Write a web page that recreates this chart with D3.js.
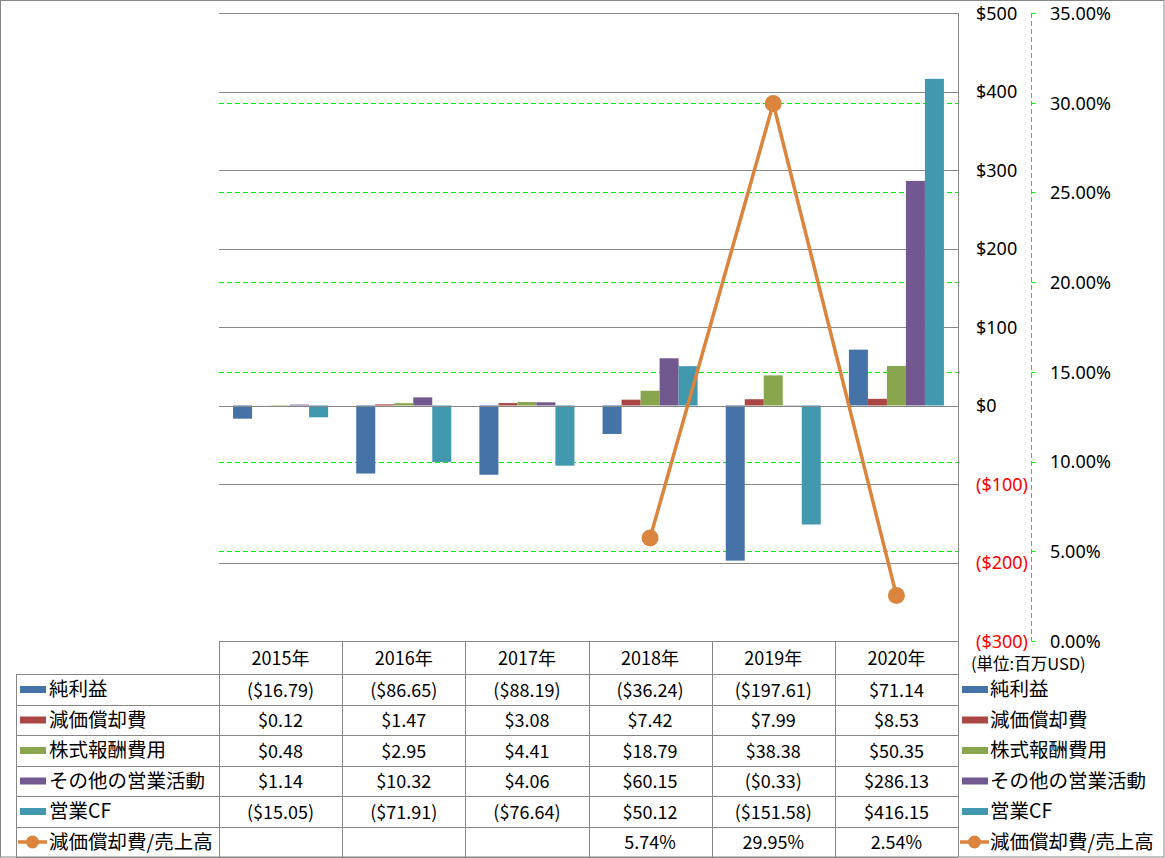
<!DOCTYPE html>
<html>
<head>
<meta charset="utf-8">
<script src="https://cdn.jsdelivr.net/npm/d3@7/dist/d3.min.js"></script>
<style>
  html, body { margin: 0; padding: 0; background: #fff; }
  svg { display: block; }
  text { font-family: "Noto Sans CJK JP", "Noto Sans", sans-serif; }
  text.axisnum { font-family: "Noto Sans", "Noto Sans CJK JP", sans-serif; }
</style>
</head>
<body>
<svg id="chart" width="1165" height="858"></svg>
<script>
const categories = ["2015年", "2016年", "2017年", "2018年", "2019年", "2020年"];
const seriesNames = ["純利益", "減価償却費", "株式報酬費用", "その他の営業活動", "営業CF"];
const netIncome = [-16.79, -86.65, -88.19, -36.24, -197.61, 71.14];
const depreciation = [0.12, 1.47, 3.08, 7.42, 7.99, 8.53];
const stockComp = [0.48, 2.95, 4.41, 18.79, 38.38, 50.35];
const otherOps = [1.14, 10.32, 4.06, 60.15, -0.33, 286.13];
const operatingCF = [-15.05, -71.91, -76.64, 50.12, -151.58, 416.15];
const lineName = "減価償却費/売上高";
const depRatio = [null, null, null, 5.74, 29.95, 2.54];
const leftTicks = [500, 400, 300, 200, 100, 0, -100, -200, -300];
const rightTicks = [0, 5, 10, 15, 20, 25, 30, 35];
const unitLabel = "(単位:百万USD)";

const barSeries = [netIncome, depreciation, stockComp, otherOps, operatingCF];
const colors = ["#4572A7", "#AA4643", "#89A54E", "#71588F", "#4198AF"];
const lineColor = "#DB843D";
const gridGray = "#868686";
const green = "#00F000";

const svg = d3.select("#chart");
const W = 1165, H = 858;
const plotL = 219, plotR = 958, plotT = 13, plotB = 641;

svg.append("rect").attr("x", 0.5).attr("y", 0.5).attr("width", W - 1.5).attr("height", H - 1.5)
  .attr("fill", "#fff").attr("stroke", gridGray).attr("stroke-width", 1);

const x = d3.scaleBand().domain(categories).range([plotL, plotR]).paddingInner(0).paddingOuter(0);
const xs = d3.scaleBand().domain(seriesNames).range([0, x.bandwidth()]).paddingInner(0).paddingOuter(0.74);
const y = d3.scaleLinear().domain([-300, 500]).range([plotB, plotT]);
const y2 = d3.scaleLinear().domain([0, 35]).range([plotB, plotT]);

const fmtMoney = v => v < 0 ? "($" + d3.format(",.2f")(-v) + ")" : "$" + d3.format(",.2f")(v);
const fmtAxis = v => v < 0 ? "($" + (-v) + ")" : "$" + v;

svg.append("g").selectAll("line").data(leftTicks).join("line")
  .attr("x1", plotL).attr("x2", plotR)
  .attr("y1", d => Math.round(y(d)) + 0.5).attr("y2", d => Math.round(y(d)) + 0.5)
  .attr("stroke", gridGray).attr("stroke-width", 1);

svg.append("g").selectAll("line").data(rightTicks.filter(d => d > 0 && d < 35)).join("line")
  .attr("x1", plotL).attr("x2", plotR)
  .attr("y1", d => Math.round(y2(d)) + 0.5).attr("y2", d => Math.round(y2(d)) + 0.5)
  .attr("stroke", green).attr("stroke-width", 1).attr("stroke-dasharray", "5,3");

const barG = svg.append("g");
barSeries.forEach((vals, si) => {
  barG.append("g").selectAll("rect").data(vals).join("rect")
    .attr("x", (d, i) => x(categories[i]) + xs(seriesNames[si]))
    .attr("width", xs.bandwidth())
    .attr("y", d => y(Math.max(0, d)))
    .attr("height", d => Math.abs(y(d) - y(0)))
    .attr("fill", colors[si]);
});

svg.append("line").attr("x1", plotL).attr("x2", plotR)
  .attr("y1", Math.round(y(0)) + 0.5).attr("y2", Math.round(y(0)) + 0.5)
  .attr("stroke", gridGray).attr("stroke-width", 1);

svg.append("line").attr("x1", plotR + 0.5).attr("x2", plotR + 0.5)
  .attr("y1", plotT).attr("y2", H - 1).attr("stroke", gridGray).attr("stroke-width", 1);

svg.append("g").selectAll("text").data(leftTicks).join("text").attr("class", "axisnum")
  .attr("x", 976).attr("y", d => y(d)).attr("dy", "0.38em")
  .attr("font-size", 18).attr("fill", d => d < 0 ? "#FF0000" : "#000")
  .text(fmtAxis);

const ax2 = 1031.5;
svg.append("line").attr("x1", ax2).attr("x2", ax2).attr("y1", plotT).attr("y2", plotB)
  .attr("stroke", green).attr("stroke-width", 1).attr("stroke-dasharray", "5,3");
svg.append("g").selectAll("line").data(rightTicks).join("line")
  .attr("x1", ax2).attr("x2", ax2 + 4)
  .attr("y1", d => Math.round(y2(d)) + 0.5).attr("y2", d => Math.round(y2(d)) + 0.5)
  .attr("stroke", green).attr("stroke-width", 1);
svg.append("g").selectAll("text").data(rightTicks).join("text").attr("class", "axisnum")
  .attr("x", 1050).attr("y", d => y2(d)).attr("dy", "0.38em")
  .attr("font-size", 18).attr("fill", "#000")
  .text(d => d3.format(".2f")(d) + "%");

svg.append("text").attr("x", 971).attr("y", 664).attr("dy", "0.35em")
  .attr("font-size", 16.5).attr("fill", "#000").text(unitLabel);

const lineData = depRatio.map((v, i) => ({ c: categories[i], v })).filter(d => d.v !== null);
const line = d3.line().x(d => x(d.c) + x.bandwidth() / 2).y(d => y2(d.v));
svg.append("path").datum(lineData).attr("d", line)
  .attr("fill", "none").attr("stroke", lineColor).attr("stroke-width", 3.5).attr("stroke-linejoin", "round");
svg.append("g").selectAll("circle").data(lineData).join("circle")
  .attr("cx", d => x(d.c) + x.bandwidth() / 2).attr("cy", d => y2(d.v)).attr("r", 8.5)
  .attr("fill", lineColor);

const rowTops = [641, 674, 705, 735, 766, 796, 827, 857];
const tableLeft = 16;
const tg = svg.append("g");
tg.append("line").attr("x1", plotL).attr("x2", plotR).attr("y1", rowTops[0] + 0.5).attr("y2", rowTops[0] + 0.5)
  .attr("stroke", gridGray);
rowTops.slice(1).forEach(yy => {
  tg.append("line").attr("x1", tableLeft).attr("x2", plotR).attr("y1", yy + 0.5).attr("y2", yy + 0.5)
    .attr("stroke", gridGray);
});
categories.forEach(c => {
  tg.append("line").attr("x1", Math.round(x(c)) + 0.5).attr("x2", Math.round(x(c)) + 0.5)
    .attr("y1", rowTops[0]).attr("y2", H - 1).attr("stroke", gridGray);
});
tg.append("line").attr("x1", tableLeft + 0.5).attr("x2", tableLeft + 0.5)
  .attr("y1", rowTops[1]).attr("y2", H - 1).attr("stroke", gridGray);

tg.selectAll("text.hdr").data(categories).join("text").attr("class", "hdr")
  .attr("x", d => x(d) + x.bandwidth() / 2).attr("y", (rowTops[0] + rowTops[1]) / 2 + 1)
  .attr("dy", "0.35em").attr("text-anchor", "middle").attr("font-size", 18).text(d => d);

barSeries.forEach((vals, si) => {
  const yc = (rowTops[si + 1] + rowTops[si + 2]) / 2 + 1;
  tg.append("g").selectAll("text").data(vals).join("text")
    .attr("x", (d, i) => x(categories[i]) + x.bandwidth() / 2).attr("y", yc)
    .attr("dy", "0.35em").attr("text-anchor", "middle").attr("font-size", 18).text(fmtMoney);
});
{
  const yc = (rowTops[6] + rowTops[7]) / 2 + 1;
  tg.append("g").selectAll("text").data(depRatio).join("text")
    .attr("x", (d, i) => x(categories[i]) + x.bandwidth() / 2).attr("y", yc)
    .attr("dy", "0.35em").attr("text-anchor", "middle").attr("font-size", 18)
    .text(d => d === null ? "" : d3.format(".2f")(d) + "%");
}

function legendEntry(g, kx, tx, yc, name, color, isLine) {
  if (isLine) {
    g.append("line").attr("x1", kx - 2).attr("x2", kx + 27).attr("y1", yc).attr("y2", yc)
      .attr("stroke", color).attr("stroke-width", 3.5);
    g.append("circle").attr("cx", kx + 12.5).attr("cy", yc).attr("r", 6.5).attr("fill", color);
  } else {
    g.append("rect").attr("x", kx).attr("y", yc - 3.5).attr("width", 26).attr("height", 7).attr("fill", color);
  }
  g.append("text").attr("x", tx).attr("y", yc).attr("dy", "0.35em").attr("font-size", 19.5).text(name);
}
const lg = svg.append("g");
const allNames = seriesNames.concat([lineName]);
allNames.forEach((n, i) => {
  const yc = (rowTops[i + 1] + rowTops[i + 2]) / 2;
  const col = i < 5 ? colors[i] : lineColor;
  legendEntry(lg, 20, 49, yc, n, col, i === 5);
  legendEntry(lg, 962, 990, yc, n, col, i === 5);
});
</script>
</body>
</html>
